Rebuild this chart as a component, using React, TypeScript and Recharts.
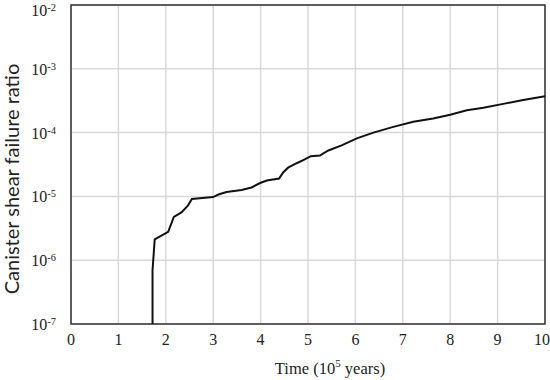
import { LineChart, Line, XAxis, YAxis, CartesianGrid, ReferenceArea } from 'recharts';

// time in 1e5 years, ratio
const TIME = [1.72, 1.72, 1.766, 2.05, 2.17, 2.33, 2.47, 2.55, 3.0, 3.11, 3.28, 3.6, 3.81, 3.99, 4.13, 4.39, 4.48, 4.58, 4.76, 4.9, 5.06, 5.25, 5.43, 5.71, 6.03, 6.38, 6.8, 7.22, 7.64, 8.0, 8.35, 8.7, 9.12, 9.54, 10.0];
const LOG_RATIO = [-7, -6.16, -5.675, -5.556, -5.32, -5.25, -5.14, -5.04, -5.01, -4.97, -4.93, -4.9, -4.86, -4.79, -4.75, -4.72, -4.62, -4.55, -4.48, -4.43, -4.37, -4.36, -4.28, -4.2, -4.09, -4.0, -3.91, -3.83, -3.78, -3.72, -3.65, -3.61, -3.55, -3.49, -3.43];

const X_TICKS = [0, 1, 2, 3, 4, 5, 6, 7, 8, 9, 10];
const Y_EXPONENTS = [-7, -6, -5, -4, -3, -2];

const data = TIME.map((t, i) => ({ t, ratio: Math.pow(10, LOG_RATIO[i]) }));
const yTicks = Y_EXPONENTS.map(e => Math.pow(10, e));

const SERIF = '"Liberation Serif", "DejaVu Serif", serif';

const YTick = ({ x, y, payload }: any) => {
  const exp = Math.round(Math.log10(payload.value));
  // top label would be clipped, keep it inside the picture
  const base = Math.max(y + 6, 16);
  return (
    <text x={x} y={base} textAnchor="end" fontFamily={SERIF} fontSize={16} fill="#222">
      <tspan>10</tspan>
      <tspan dy={-5} fontSize={10.5}>{exp}</tspan>
    </text>
  );
};

export default function App() {
  return (
    <div style={{ position: 'absolute', left: 0, top: 0, width: 550, height: 380, background: '#fff' }}>
      <LineChart width={550} height={380} data={data} margin={{ top: 5, right: 5, left: 0, bottom: 0 }}>
        <CartesianGrid stroke="#d9d9d9" strokeWidth={1.5} />
        <XAxis
          dataKey="t"
          type="number"
          domain={[0, 10]}
          ticks={X_TICKS}
          height={56}
          tickSize={0}
          tickMargin={10}
          tickLine={false}
          axisLine={false}
          tick={{ fontFamily: SERIF, fontSize: 16, fill: '#222' }}
        />
        <YAxis
          scale="log"
          domain={[1e-7, 1e-2]}
          ticks={yTicks}
          allowDataOverflow
          width={71}
          tickSize={0}
          tickMargin={15}
          tickLine={false}
          axisLine={false}
          tick={<YTick />}
        />
        <Line
          dataKey="ratio"
          type="linear"
          stroke="#111"
          strokeWidth={2}
          dot={false}
          isAnimationActive={false}
        />
        <ReferenceArea
          x1={0}
          x2={10}
          y1={1e-7}
          y2={1e-2}
          fill="none"
          stroke="#333"
          strokeWidth={1.5}
          ifOverflow="visible"
        />
      </LineChart>
      <div
        style={{
          position: 'absolute',
          left: 330,
          top: 368,
          transform: 'translate(-50%, -50%)',
          fontFamily: SERIF,
          fontSize: 16.5,
          color: '#222',
          whiteSpace: 'nowrap',
        }}
      >
        Time (10<sup style={{ fontSize: 11 }}>5</sup> years)
      </div>
      <div
        style={{
          position: 'absolute',
          left: 11,
          top: 179,
          transform: 'translate(-50%, -50%) rotate(-90deg)',
          fontFamily: 'Lato, sans-serif',
          fontSize: 20,
          color: '#222',
          whiteSpace: 'nowrap',
        }}
      >
        Canister shear failure ratio
      </div>
    </div>
  );
}
